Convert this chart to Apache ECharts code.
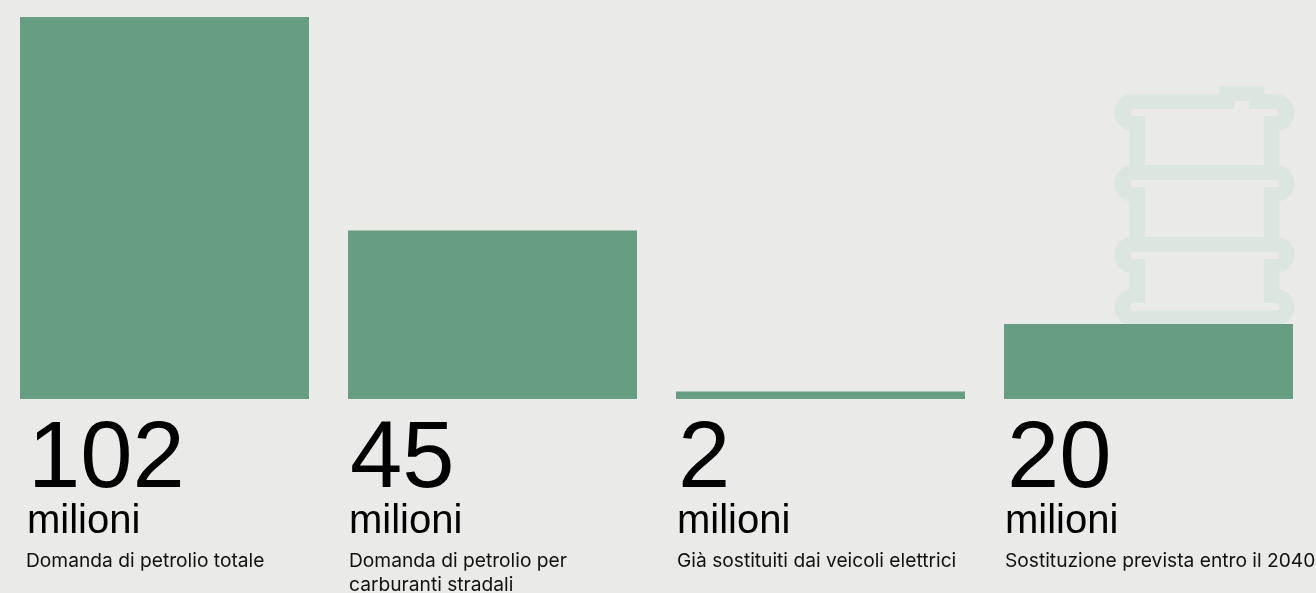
<!DOCTYPE html>
<html>
<head>
<meta charset="utf-8">
<style>html,body{margin:0;padding:0;background:#eaeae8}#c{width:1316px;height:593px}</style>
<script src="https://cdn.jsdelivr.net/npm/echarts@6/dist/echarts.min.js"></script>
</head>
<body>
<div id="c"></div>
<script>
const categories = ['Domanda di petrolio totale', 'Domanda di petrolio per\ncarburanti stradali', 'Già sostituiti dai veicoli elettrici', 'Sostituzione prevista entro il 2040'];
const values = [102, 45, 2, 20];
const unit = 'milioni';

// Text columns under each bar
const numberX = [28, 350, 678, 1007];
const unitX = [27, 349, 677, 1005];
const captionX = [26, 349, 677, 1005];

const FONT = '"Liberation Sans", Arial, sans-serif';

// Oil barrel silhouette: outer contour, then three panel cut-outs
const barrelPath =
  'M1132.7,94 L1219,94 L1219,86 L1264.3,86 L1264.3,94 L1276,94 ' +
  'A18.35,18.35 0 0 1 1279.3,130.4 L1279.3,165.3 A18.35,18.35 0 0 1 1279.3,201.4 ' +
  'L1279.3,237 A18.35,18.35 0 0 1 1279.3,273.1 L1279.3,289.3 A18.35,18.35 0 0 1 1276,325.7 ' +
  'L1132.7,325.7 A18.35,18.35 0 0 1 1129.3,289.3 L1129.3,273.1 A18.35,18.35 0 0 1 1129.3,237 ' +
  'L1129.3,201.4 A18.35,18.35 0 0 1 1129.3,165.3 L1129.3,130.4 A18.35,18.35 0 0 1 1132.7,94 Z ' +
  'M1133.5,109 A3.6,3.6 0 0 0 1133.5,116 L1145,116 L1145,165 L1263.7,165 L1263.7,116 L1275.5,116 ' +
  'A3.6,3.6 0 0 0 1275.5,109 L1249,109 L1249,101 L1234.3,101 L1234.3,109 Z ' +
  'M1133.5,180 A3.6,3.6 0 0 0 1133.5,187.3 L1145,187.3 L1145,236.7 L1263.7,236.7 L1263.7,187.3 L1275.5,187.3 ' +
  'A3.6,3.6 0 0 0 1275.5,180 Z ' +
  'M1133.5,251.7 A3.6,3.6 0 0 0 1133.5,259 L1145,259 L1145,303 L1133.5,303 A3.8,3.8 0 0 0 1133.5,310.7 ' +
  'L1275.5,310.7 A3.8,3.8 0 0 0 1275.5,303 L1263.7,303 L1263.7,259 L1275.5,259 A3.6,3.6 0 0 0 1275.5,251.7 Z';

const texts = [];
values.forEach((v, i) => {
  texts.push({ type: 'text', x: numberX[i], y: 414, silent: true,
    style: { text: String(v), font: '94px ' + FONT, fill: '#000', textVerticalAlign: 'top' } });
  texts.push({ type: 'text', x: unitX[i], y: 502, silent: true,
    style: { text: unit, font: '40px ' + FONT, fill: '#000', textVerticalAlign: 'top' } });
  texts.push({ type: 'text', x: captionX[i], y: 549, silent: true,
    style: { text: categories[i], font: '19.2px Inter, ' + FONT, lineHeight: 24, fill: '#111', textVerticalAlign: 'top' } });
});

const chart = echarts.init(document.getElementById('c'));
chart.setOption({
  animation: false,
  backgroundColor: '#eaeae8',
  grid: { left: 0.5, right: 3.5, top: 17, height: 382 },
  xAxis: { type: 'category', data: categories, show: false },
  yAxis: { type: 'value', min: 0, max: 102, show: false },
  graphic: { elements: texts },
  series: [
    {
      type: 'custom',
      coordinateSystem: 'none',
      silent: true,
      z: 1,
      data: [0],
      renderItem: () => ({
        type: 'path',
        shape: { pathData: barrelPath, x: 1114.35, y: 86, width: 180, height: 239.7 },
        style: { fill: '#dce6e0' }
      })
    },
    {
      type: 'bar',
      z: 2,
      data: values,
      barWidth: 289,
      itemStyle: { color: '#679d80' }
    }
  ]
});
</script>
</body>
</html>
